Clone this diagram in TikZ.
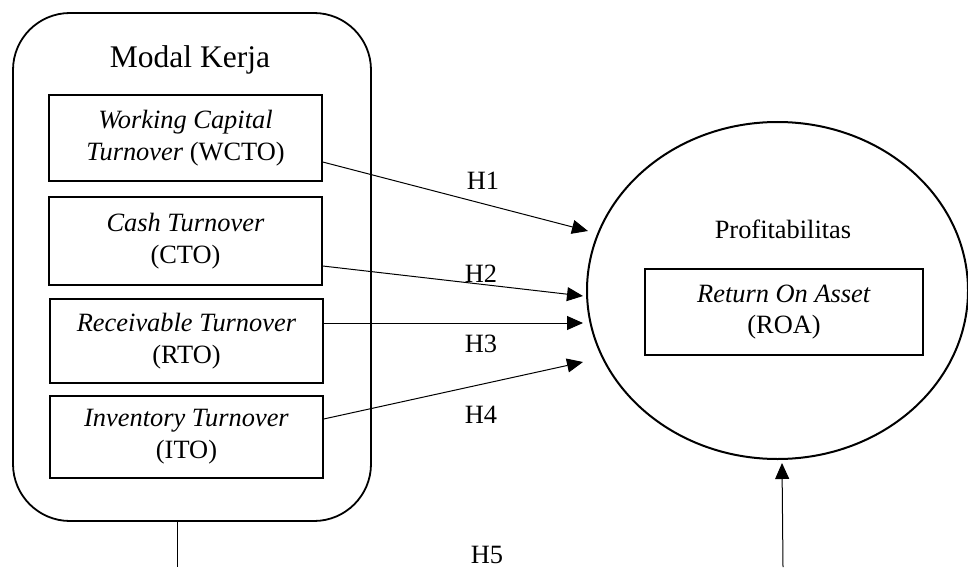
\documentclass[tikz,border=0pt]{standalone}
\usepackage{fontspec}
\setmainfont{Liberation Serif}
\usetikzlibrary{shapes.geometric,arrows.meta}
\begin{document}
\begin{tikzpicture}[x=1pt,y=-1pt,
  txt/.style={font=\fontsize{26.4}{31.7}\selectfont, align=center, inner sep=0pt},
  varbox/.style={txt, draw, line width=1.4pt, minimum width=273pt},
  grp/.style={draw, line width=1.8pt, rounded corners=57pt, minimum width=358pt, minimum height=508pt, inner sep=0pt},
  oval/.style={draw, ellipse, line width=2pt, minimum width=381pt, minimum height=337pt, inner sep=0pt},
  arr/.style={line width=1pt, -{Triangle[length=16pt,width=14pt]}},
  lbl/.style={txt, anchor=base}
]
\useasboundingbox (0,0) rectangle (968,567);
% group box
\node[grp] (mk) at (192,267) {};
\node[txt, anchor=base, font=\fontsize{31.5}{36}\selectfont] (mktitle) at (190,68) {Modal Kerja};
\node[varbox, minimum height=86pt] (wcto) at (185.5,138) {\textit{Working Capital}\\\textit{Turnover} (WCTO)};
\node[varbox, minimum height=88pt] (cto) at (185.5,241) {\textit{Cash Turnover}\\(CTO)};
\node[varbox, minimum height=84pt] (rto) at (186.5,341) {\textit{Receivable Turnover}\\(RTO)};
\node[varbox, minimum height=82pt] (ito) at (186.5,437) {\textit{Inventory Turnover}\\(ITO)};
% ellipse
\node[oval] (prof) at (777.5,290.5) {};
\node[txt, anchor=base] (proftitle) at (783,238) {Profitabilitas};
\node[varbox, minimum width=278pt, minimum height=86pt] (roa) at (784,312) {\textit{Return On Asset}\\(ROA)};
% arrow tips
\coordinate (t1) at (588,231);
\coordinate (t2) at (583,296);
\coordinate (t3) at (583,323);
\coordinate (t4) at (583,362);
\draw[arr] ([yshift=-24pt]wcto.east) -- (t1);
\draw[arr] ([yshift=-25pt]cto.east) -- (t2);
\draw[arr] ([yshift=18pt]rto.east) -- (t3);
\draw[arr] ([yshift=18pt]ito.east) -- (t4);
\node[lbl] (h1) at (483,189) {H1};
\node[lbl] (h2) at (481,282) {H2};
\node[lbl] (h3) at (481,352) {H3};
\node[lbl] (h4) at (481,423) {H4};
\node[lbl] (h5) at (487,563) {H5};
% bottom connector pieces
\coordinate (mkbot) at (177,521);
\coordinate (leftend) at (177,567);
\coordinate (rightend) at (783,567);
\coordinate (t5) at (782,463);
\draw[line width=1pt] (mkbot) -- (leftend);
\draw[arr] (rightend) -- (t5);
\end{tikzpicture}
\end{document}
